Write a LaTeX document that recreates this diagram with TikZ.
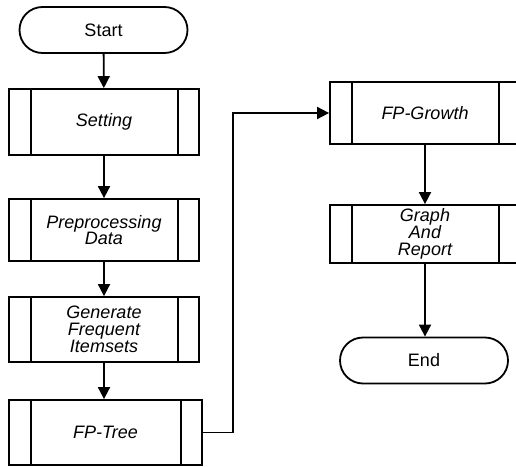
\documentclass[tikz,border=0pt]{standalone}
\usepackage{fontspec}
\setmainfont{Liberation Sans}
\usetikzlibrary{shapes.misc,arrows.meta}

\tikzset{
  terminal/.style={draw, rounded rectangle, minimum width=168pt, minimum height=46pt,
    inner sep=0pt, font=\fontsize{18}{18}\selectfont},
  subproc/.style={draw, rectangle, minimum width=190pt, inner sep=0pt, align=center,
    font=\fontsize{18}{16.8}\selectfont\itshape,
    path picture={
      \draw ([xshift=22pt]path picture bounding box.north west) -- ([xshift=22pt]path picture bounding box.south west);
      \draw ([xshift=-21pt]path picture bounding box.north east) -- ([xshift=-21pt]path picture bounding box.south east);
    }},
  flow/.style={-{Triangle[length=12pt,width=12pt]}},
}

\begin{document}
\begin{tikzpicture}[x=1pt,y=-1pt,line width=1.8pt]
  \useasboundingbox (0,0) rectangle (516,466);
  \clip (0,0) rectangle (516,466);

  % left column
  \node[terminal] (start) at (103.5,30) {Start};
  \node[subproc, minimum height=66pt] (setting) at (104,122) {Setting};
  \node[subproc, minimum height=62pt] (prep) at (104,230) {Preprocessing\\Data};
  \node[subproc, minimum height=65pt] (gen) at (104,329.5) {Generate\\Frequent\\Itemsets};
  \node[subproc, minimum height=65pt, minimum width=193pt] (tree) at (105.5,432.5) {FP-Tree};

  % right column
  \node[subproc, minimum height=62pt] (growth) at (425,113) {FP-Growth};
  \node[subproc, minimum height=58pt] (graph) at (425,234) {Graph\\And\\Report};
  \node[terminal] (end) at (424,360.5) {End};

  \coordinate (turn) at (233,0);

  % connectors
  \draw[flow] (start) -- (setting);
  \draw[flow] (setting) -- (prep);
  \draw[flow] (prep) -- (gen);
  \draw[flow] (gen) -- (gen.south |- tree.north);
  \draw[flow] (tree.east) -- (turn |- tree.east) -- (turn |- growth.west) -- (growth.west);
  \draw[flow] (growth) -- (graph);
  \draw[flow] (graph.south) -- (graph.south |- end.north);
\end{tikzpicture}
\end{document}
